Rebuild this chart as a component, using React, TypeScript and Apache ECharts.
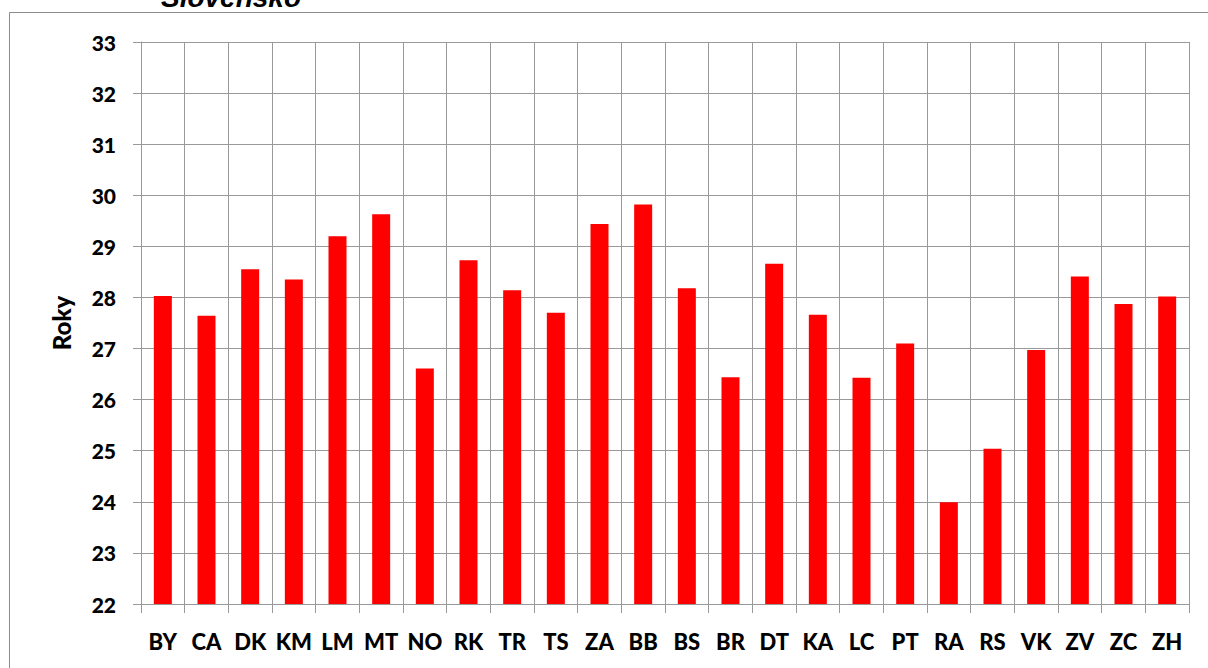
import React, { useEffect, useRef } from "react";
import * as echarts from "echarts";

const categories = ["BY", "CA", "DK", "KM", "LM", "MT", "NO", "RK", "TR", "TS", "ZA", "BB", "BS", "BR", "DT", "KA", "LC", "PT", "RA", "RS", "VK", "ZV", "ZC", "ZH"];
const values = [28.03, 27.64, 28.55, 28.35, 29.2, 29.63, 26.61, 28.73, 28.14, 27.7, 29.44, 29.82, 28.18, 26.44, 28.66, 27.66, 26.43, 27.1, 23.99, 25.04, 26.97, 28.41, 27.87, 28.02];
const titleText = "Slovensko";
const yName = "Roky";
const yMin = 22;
const yMax = 33;

const FONT = "Lato, 'Liberation Sans', sans-serif";

export default function App() {
  const ref = useRef<HTMLDivElement>(null);
  useEffect(() => {
    if (!ref.current) return;
    const chart = echarts.init(ref.current, null, { renderer: "svg" });
    chart.setOption({
      animation: false,
      backgroundColor: "#ffffff",
      graphic: [
        {
          type: "rect",
          shape: { x: 9.5, y: 12.5, width: 1400, height: 900 },
          style: { fill: "none", stroke: "#8c8c8c", lineWidth: 1 },
          silent: true,
          z: -1,
        },
        {
          type: "text",
          x: 231,
          y: 11,
          style: {
            text: titleText,
            font: "italic bold 28px 'Liberation Sans', Arial, sans-serif",
            fill: "#000",
            textAlign: "center",
            textVerticalAlign: "bottom",
          },
        },
      ],
      grid: { left: 141, right: 19, top: 42, bottom: 64, containLabel: false },
      xAxis: {
        type: "category",
        data: categories,
        boundaryGap: true,
        axisLine: { show: true, lineStyle: { color: "#999999", width: 1 } },
        axisTick: { show: true, length: 9, alignWithLabel: false, lineStyle: { color: "#999999" } },
        splitLine: { show: true, lineStyle: { color: "#999999", width: 1 } },
        axisLabel: { color: "#000", fontSize: 22, fontWeight: 900, fontFamily: FONT, margin: 26, interval: 0 },
      },
      yAxis: {
        type: "value",
        min: yMin,
        max: yMax,
        interval: 1,
        name: yName,
        nameLocation: "middle",
        nameGap: 68,
        nameTextStyle: { color: "#000", fontSize: 24, fontWeight: 900, fontFamily: FONT },
        axisLine: { show: true, lineStyle: { color: "#999999", width: 1 } },
        axisTick: { show: true, length: 8, lineStyle: { color: "#999999" } },
        splitLine: { show: true, lineStyle: { color: "#999999", width: 1 } },
        axisLabel: { color: "#000", fontSize: 21, fontWeight: 900, fontFamily: FONT, margin: 25 },
      },
      series: [
        {
          type: "bar",
          data: values,
          barWidth: 18,
          itemStyle: { color: "#ff0000" },
        },
      ],
    });
    return () => chart.dispose();
  }, []);
  return <div ref={ref} style={{ width: 1208, height: 668, position: "absolute", left: 0, top: 0 }} />;
}
